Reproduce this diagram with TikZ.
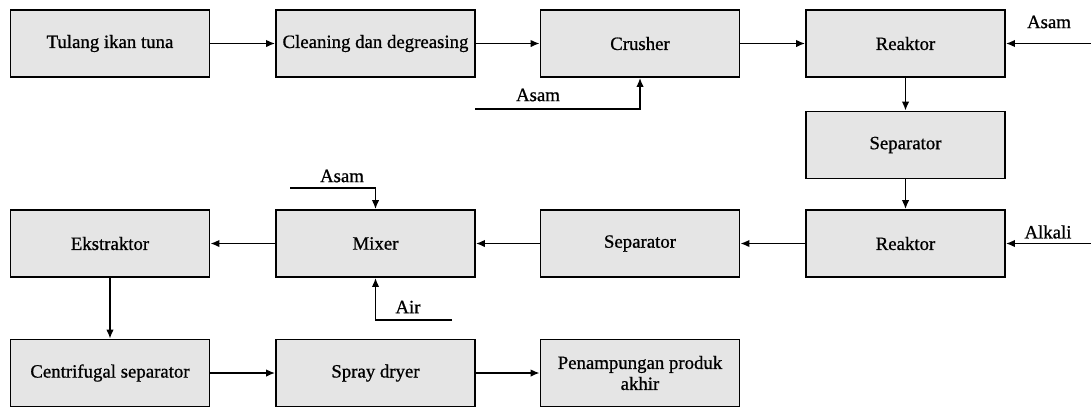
\documentclass[tikz,border=0pt]{standalone}
\usepackage{fontspec}
\setmainfont[FakeBold=0.8]{Liberation Serif}
\usetikzlibrary{arrows.meta}
\begin{document}
\begin{tikzpicture}[x=1pt,y=-1pt,
 box/.style={draw, line width=1.8pt, fill=black!10, minimum width=199pt, minimum height=67pt, inner sep=2pt, font=\fontsize{18.8}{21}\selectfont, align=center},
 flow/.style={line width=1.6pt, -{Latex[length=9pt,width=7.5pt]}},
 lbl/.style={font=\fontsize{18.8}{21}\selectfont, inner sep=0pt}]
\useasboundingbox (0,0) rectangle (1091,408);
\node[box] (tulang) at (110,43.5) {Tulang ikan tuna};
\node[box] (clean) at (375.5,43.5) {Cleaning dan degreasing};
\node[box] (crusher) at (640,43.5) {Crusher};
\node[box] (reak1) at (905.5,43.5) {Reaktor};
\node[box] (sep1) at (905.5,145) {Separator};
\node[box] (reak2) at (905.5,243.5) {Reaktor};
\node[box] (sep2) at (640,243.5) {Separator};
\node[box] (mixer) at (375.5,243.5) {Mixer};
\node[box] (ekstr) at (110,243.5) {Ekstraktor};
\node[box] (centr) at (110,373) {Centrifugal separator};
\node[box] (spray) at (375.5,373) {Spray dryer};
\node[box] (pen) at (640,373) {Penampungan produk\\akhir};
\draw[flow] (tulang.east) -- (clean.west);
\draw[flow] (clean.east) -- (crusher.west);
\draw[flow] (crusher.east) -- (reak1.west);
\draw[flow] (reak1.south) -- (sep1.north);
\draw[flow] (sep1.south) -- (reak2.north);
\draw[flow] (reak2.west) -- (sep2.east);
\draw[flow] (sep2.west) -- (mixer.east);
\draw[flow] (mixer.west) -- (ekstr.east);
\draw[flow] (ekstr.south) -- (centr.north);
\draw[flow] (centr.east) -- (spray.west);
\draw[flow] (spray.east) -- (pen.west);
\coordinate (inA1) at (475,109);
\draw[flow] (inA1) -| (crusher.south);
\node[lbl] (lA1) at (538,95) {Asam};
\coordinate (inA2) at (1091,43.5);
\draw[flow] (inA2) -- (reak1.east);
\node[lbl] (lA2) at (1049,22) {Asam};
\coordinate (inAlk) at (1091,243.5);
\draw[flow] (inAlk) -- (reak2.east);
\node[lbl] (lAlk) at (1048,232) {Alkali};
\coordinate (inA3) at (290,188);
\draw[flow] (inA3) -| (mixer.north);
\node[lbl] (lA3) at (342,176) {Asam};
\coordinate (inAir) at (452,320);
\draw[flow] (inAir) -| (mixer.south);
\node[lbl] (lAir) at (408,307) {Air};
\end{tikzpicture}
\end{document}
